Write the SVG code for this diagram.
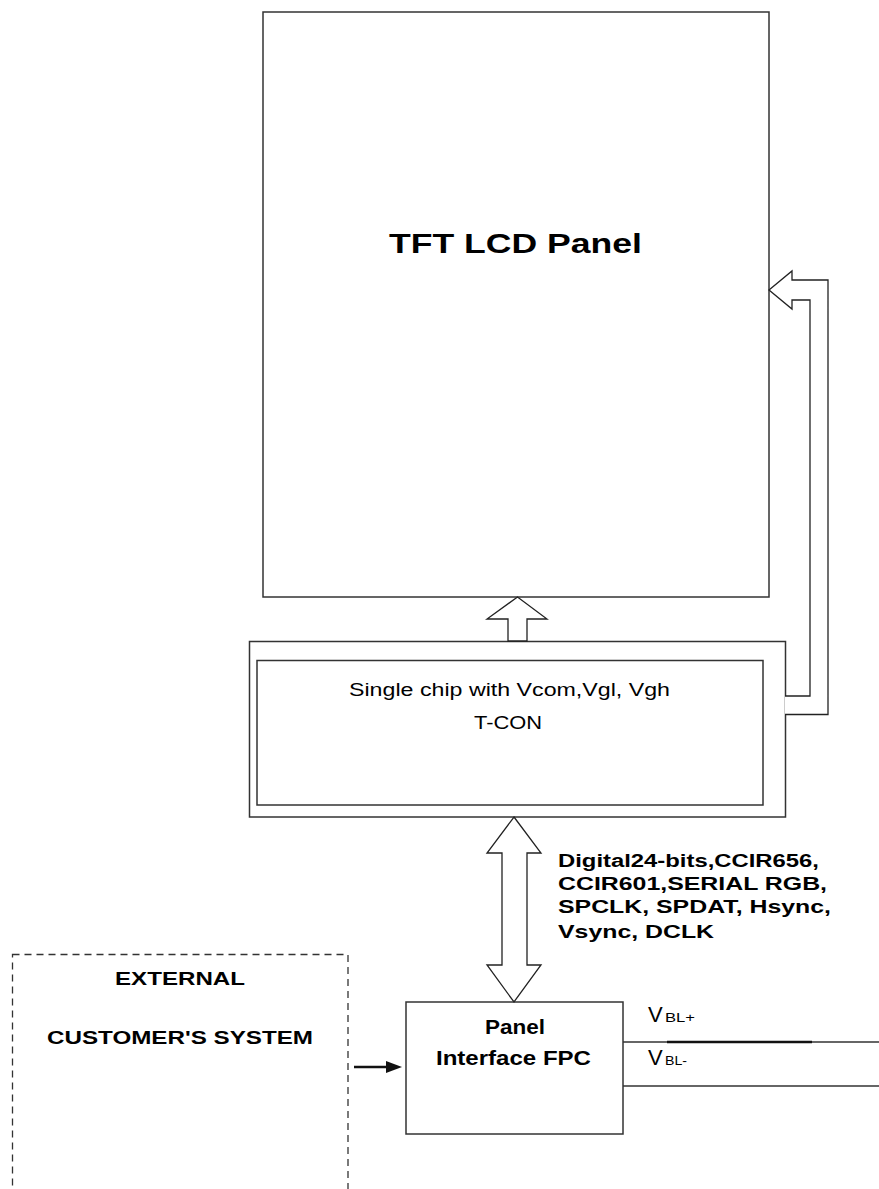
<svg xmlns="http://www.w3.org/2000/svg" width="879" height="1189" viewBox="0 0 879 1189">
<style>
.box{fill:#fff;stroke:#333;stroke-width:1.5}
.ln{fill:none;stroke:#333;stroke-width:1.5}
.arw{fill:#fff;stroke:#222;stroke-width:1.3;stroke-linejoin:miter}
.dash{fill:none;stroke:#333;stroke-width:1.3;stroke-dasharray:7 5}
text{font-family:"Liberation Sans",Arial,sans-serif;fill:#000}
.b{font-weight:bold}
</style>
<rect width="879" height="1189" fill="#fff"/>
<g id="panel">
<rect class="box" x="263" y="12" width="506" height="585"/>
<text class="b" x="389" y="253" font-size="27" textLength="253" lengthAdjust="spacingAndGlyphs">TFT LCD Panel</text>
</g>
<g id="tcon">
<rect class="box" x="249.5" y="641.5" width="536" height="175.5"/>
<rect class="box" x="257" y="660.5" width="506" height="144.5"/>
<text x="349" y="696" font-size="18" textLength="321" lengthAdjust="spacingAndGlyphs">Single chip with Vcom,Vgl, Vgh</text>
<text x="474" y="729" font-size="18" textLength="68" lengthAdjust="spacingAndGlyphs">T-CON</text>
</g>
<g id="external">
<rect class="dash" x="12.5" y="954.5" width="335.5" height="260"/>
<text class="b" x="115" y="985" font-size="18" textLength="130" lengthAdjust="spacingAndGlyphs">EXTERNAL</text>
<text class="b" x="47" y="1044" font-size="18" textLength="266" lengthAdjust="spacingAndGlyphs">CUSTOMER'S SYSTEM</text>
</g>
<g id="fpc">
<rect class="box" x="406" y="1002" width="217" height="132"/>
<text class="b" x="485" y="1034" font-size="20" textLength="60" lengthAdjust="spacingAndGlyphs">Panel</text>
<text class="b" x="436" y="1065" font-size="20" textLength="155" lengthAdjust="spacingAndGlyphs">Interface FPC</text>
</g>
<g id="connectors">
<polygon class="arw" points="508,641 508,619 487,619 517.5,597 547,619 527,619 527,641"/>
<path class="arw" fill="none" d="M785,696 H810 V300 H792 V309 L769,290 L792,271 V280 H828 V714.5 H785"/>
<polygon class="arw" points="514,817 541,853 527,853 527,965 541,965 514,1002 487,965 502,965 502,853 487,853"/>
<line x1="354" y1="1067" x2="390" y2="1067" stroke="#111" stroke-width="2.5"/>
<polygon points="386,1061 402,1067 386,1073" fill="#111"/>
<line class="ln" x1="623" y1="1042" x2="879" y2="1042"/>
<line x1="667" y1="1042" x2="812" y2="1042" stroke="#111" stroke-width="2.6"/>
<line class="ln" x1="623" y1="1086" x2="879" y2="1086"/>
</g>
<g id="labels">
<text class="b" x="558" y="867" font-size="18" textLength="261" lengthAdjust="spacingAndGlyphs">Digital24-bits,CCIR656,</text>
<text class="b" x="558" y="890" font-size="18" textLength="269" lengthAdjust="spacingAndGlyphs">CCIR601,SERIAL RGB,</text>
<text class="b" x="558" y="913" font-size="18" textLength="273" lengthAdjust="spacingAndGlyphs">SPCLK, SPDAT, Hsync,</text>
<text class="b" x="558" y="938" font-size="18" textLength="156" lengthAdjust="spacingAndGlyphs">Vsync, DCLK</text>
<text x="648" y="1022" font-size="22">V</text>
<text x="665" y="1022" font-size="12" textLength="30" lengthAdjust="spacingAndGlyphs">BL+</text>
<text x="648" y="1065" font-size="22">V</text>
<text x="665" y="1065" font-size="12" textLength="22" lengthAdjust="spacingAndGlyphs">BL-</text>
</g>
</svg>
